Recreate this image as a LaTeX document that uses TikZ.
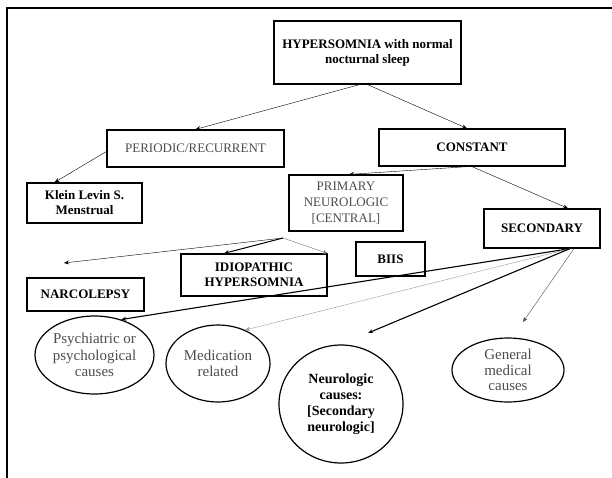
\documentclass[tikz,border=0pt]{standalone}
\usepackage{fontspec}
\setmainfont{Liberation Serif}
\usetikzlibrary{shapes.geometric,arrows.meta}

\begin{document}
\begin{tikzpicture}[x=1pt,y=-1pt,
    >={Stealth[length=5pt,width=4pt]},
    box/.style={draw, line width=1.2pt, align=center, inner sep=0pt, font=\fontsize{13}{15}\selectfont\bfseries},
    plainbox/.style={box, font=\fontsize{13}{16}\selectfont, text=black!70},
    oval/.style={draw, ellipse, line width=1.2pt, align=center, inner sep=0pt, font=\fontsize{15}{16.5}\selectfont, text=black!70}]
    \useasboundingbox (0,0) rectangle (612,478);
    \draw[line width=2pt] (7,478) -- (7,8) -- (612,8);

    \node[box, minimum width=187, minimum height=63] (hyper) at (367.5,52.5) {HYPERSOMNIA with normal\\nocturnal sleep};
    \node[plainbox, minimum width=177, minimum height=37] (periodic) at (195.5,148.5) {PERIODIC/RECURRENT};
    \node[box, minimum width=186, minimum height=37] (constant) at (472,147.5) {CONSTANT};
    \node[box, minimum width=115, minimum height=40] (klein) at (84.5,203) {Klein Levin S.\\Menstrual};
    \node[plainbox, minimum width=114, minimum height=56] (primary) at (346,203) {PRIMARY\\NEUROLOGIC\\{}[CENTRAL]};
    \node[box, minimum width=116, minimum height=39] (secondary) at (542,228.5) {SECONDARY};
    \node[box, minimum width=146, minimum height=42] (idio) at (254,275) {IDIOPATHIC\\HYPERSOMNIA};
    \node[box, minimum width=69, minimum height=34] (biis) at (390.5,259) {BIIS};
    \node[box, minimum width=117, minimum height=33] (narco) at (85.5,294.5) {NARCOLEPSY};

    \node[oval, minimum width=119, minimum height=78] (psych) at (94.5,355) {Psychiatric or\\psychological\\causes};
    \node[oval, minimum width=104, minimum height=77] (medic) at (218,363.5) {Medication\\related};
    \node[oval, minimum width=124, minimum height=118, font=\fontsize{14}{16}\selectfont\bfseries, text=black] (neuro) at (341,404) {Neurologic\\causes:\\{}[Secondary\\neurologic]};
    \node[oval, minimum width=112, minimum height=64, font=\fontsize{15}{15.5}\selectfont] (general) at (508,370) {General\\medical\\causes};

    \draw[->] ([xshift=-8]hyper.south) -- (periodic.north);
    \draw[->] (hyper.south) -- ([xshift=-5]constant.north);
    \draw[->] ([yshift=-3]periodic.west) -- ([xshift=-30]klein.north);
    \draw[->] ([xshift=-4]constant.south) -- ([xshift=3]primary.north);
    \draw[->] (constant.south) -- ([xshift=26]secondary.north);

    \coordinate (fork) at (283,238);
    \coordinate (narcotip) at (64,263);
    \draw[->] (fork) -- (narcotip);
    \draw[->, line width=1pt] (fork) -- ([xshift=-30]idio.north);
    \draw[->, black!55] (fork) -- (idio.north east);

    \coordinate (fan) at ([xshift=28]secondary.south);
    \coordinate (neurotip) at (368,333);
    \coordinate (generaltip) at (523,322);
    \draw[->, line width=1.1pt] (fan) -- (psych.53);
    \draw[->, black!40] (fan) -- (medic.51);
    \draw[->, line width=1.1pt] (fan) -- (neurotip);
    \draw[->, black!70] ([xshift=4]fan) -- (generaltip);
\end{tikzpicture}
\end{document}
